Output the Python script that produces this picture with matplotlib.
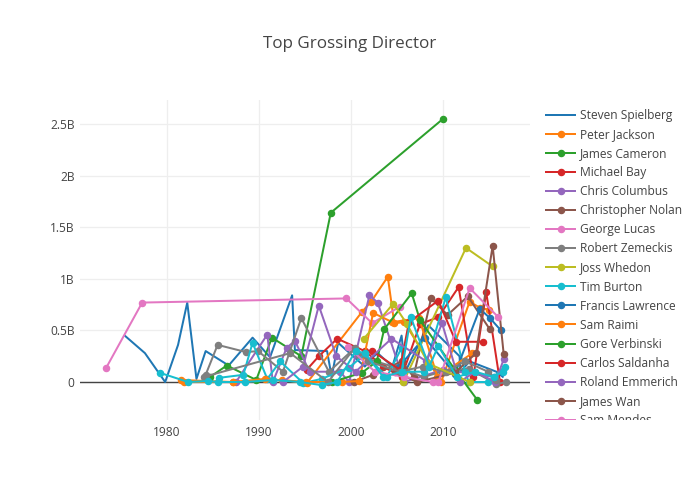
import matplotlib
matplotlib.use("Agg")
import matplotlib.pyplot as plt
from matplotlib.patches import Rectangle
from matplotlib.ticker import FuncFormatter

plt.rcParams['font.family'] = ['Open Sans', 'DejaVu Sans']

title = "Top Grossing Director"

directors = ["Steven Spielberg", "Peter Jackson", "James Cameron", "Michael Bay",
             "Chris Columbus", "Christopher Nolan", "George Lucas", "Robert Zemeckis",
             "Joss Whedon", "Tim Burton", "Francis Lawrence", "Sam Raimi",
             "Gore Verbinski", "Carlos Saldanha", "Roland Emmerich", "James Wan",
             "Sam Mendes", "Ridley Scott", "Andrew Adamson", "Ron Howard"]

# release year (decimal) and profit in billions USD
spielberg_years = [1975.4, 1977.6, 1979.8, 1981.2, 1982.2, 1983.2, 1984.2, 1986.7, 1989.3, 1991.2,
                   1993.6, 1993.9, 1997.4, 1997.9, 1998.6, 2001.5, 2002.5, 2002.9, 2004.5, 2005.5,
                   2005.9, 2008.4, 2011.8, 2011.9, 2012.9, 2015.8, 2016.5]
spielberg_vals = [0.45, 0.28, 0.0, 0.36, 0.77, 0.03, 0.30, 0.16, 0.43, 0.24,
                  0.84, 0.31, 0.30, 0.05, 0.38, 0.15, 0.25, 0.28, 0.15, 0.45,
                  0.10, 0.55, 0.25, 0.10, 0.20, 0.10, 0.05]
jackson_years = [1981.5, 1987.2, 1992.5, 1995.2, 2001.2, 2002.2, 2004.0, 2004.7, 2005.8, 2009.8, 2012.9, 2014.0, 2015.0]
jackson_vals = [0.02, 0.0, 0.02, -0.01, 0.68, 0.78, 1.02, 0.57, 0.58, 0.0, 0.78, 0.72, 0.70]
cameron_years = [1984.7, 1986.5, 1989.7, 1991.4, 1994.6, 1997.8, 2010.0]
cameron_vals = [0.05, 0.16, 0.02, 0.43, 0.25, 1.64, 2.55]
bay_years = [1995.2, 1996.5, 1998.5, 2001.5, 2003.5, 2005.5, 2007.5, 2009.5, 2011.7, 2013.3, 2014.7, 2016.2]
bay_vals = [0.12, 0.25, 0.42, 0.30, 0.15, 0.05, 0.56, 0.63, 0.92, 0.05, 0.87, 0.0]
columbus_years = [1987.5, 1990.9, 1991.5, 1993.0, 1993.9, 1995.5, 1998.8, 1999.8, 2002.0, 2002.9, 2005.8, 2010.0, 2015.5]
columbus_vals = [0.0, 0.46, 0.0, 0.33, 0.40, 0.10, 0.10, 0.0, 0.84, 0.77, 0.0, 0.12, 0.05]
nolan_years = [2000.3, 2002.4, 2005.5, 2006.8, 2008.7, 2010.5, 2012.7, 2015.1]
nolan_vals = [0.0, 0.07, 0.20, 0.05, 0.81, 0.65, 0.83, 0.51]
lucas_years = [1973.4, 1977.3, 1999.5, 2002.3, 2005.3]
lucas_vals = [0.14, 0.77, 0.81, 0.57, 0.73]
zemeckis_years = [1984.2, 1985.5, 1988.6, 1989.9, 1992.6, 1994.6, 1997.6, 2000.3, 2000.9, 2004.9,
                  2007.9, 2009.9, 2012.8, 2015.8, 2016.9]
zemeckis_vals = [0.07, 0.36, 0.29, 0.30, 0.10, 0.62, 0.10, 0.32, 0.25, 0.14,
                 0.05, 0.10, 0.13, -0.02, 0.0]
whedon_years = [2005.7, 2012.5, 2015.4]
whedon_vals = [0.0, 1.30, 1.12]
burton_years = [1985.6, 1988.3, 1989.3, 1990.9, 1992.3, 1994.8, 1996.8, 1999.8, 2001.5, 2003.9,
                2005.5, 2005.7, 2007.9, 2010.3, 2012.4, 2012.8, 2014.9, 2016.7]
burton_vals = [0.04, 0.07, 0.38, 0.03, 0.20, -0.01, 0.03, 0.14, 0.27, 0.05,
               0.33, 0.10, 0.10, 0.82, 0.10, 0.0, 0.0, 0.15]
lawrence_years = [2005.2, 2008.0, 2011.3, 2014.0, 2015.1, 2016.3]
lawrence_vals = [0.15, 0.43, 0.08, 0.71, 0.62, 0.50]
raimi_years = [1981.8, 1987.2, 1990.6, 1995.1, 1999.0, 2000.9, 2002.4, 2004.5, 2007.4, 2009.4, 2013.2]
raimi_vals = [0.0, 0.0, 0.03, 0.0, 0.0, 0.01, 0.67, 0.58, 0.62, 0.05, 0.28]
verbinski_years = [1997.9, 2001.2, 2002.8, 2003.6, 2006.6, 2007.5, 2011.3, 2013.7]
verbinski_vals = [0.0, 0.09, 0.20, 0.51, 0.86, 0.60, 0.12, -0.17]
saldanha_years = [2002.3, 2005.3, 2006.3, 2009.5, 2011.4, 2014.4]
saldanha_vals = [0.30, 0.12, 0.58, 0.79, 0.39, 0.39]
emmerich_years = [1992.6, 1994.8, 1996.5, 1998.4, 2000.5, 2004.4, 2008.2, 2009.9, 2011.8, 2013.5, 2015.7, 2016.6]
emmerich_vals = [0.0, 0.15, 0.74, 0.25, 0.10, 0.42, 0.20, 0.57, 0.0, 0.10, 0.0, 0.22]
wan_years = [2004.8, 2007.2, 2011.3, 2013.6, 2015.4, 2016.6]
wan_vals = [0.10, 0.0, 0.09, 0.28, 1.32, 0.27]
mendes_years = [1999.7, 2002.6, 2005.8, 2008.9, 2009.5, 2012.9, 2016.0]
mendes_vals = [0.34, 0.10, 0.05, 0.0, 0.0, 0.91, 0.63]
scott_years = [1984.0, 1993.4, 1997.5, 2000.4, 2001.9, 2005.3, 2007.8, 2010.3, 2012.4, 2014.9, 2015.8]
scott_vals = [0.05, 0.28, 0.0, 0.33, 0.20, 0.10, 0.15, 0.10, 0.20, 0.10, 0.02]
adamson_years = [2001.4, 2004.6, 2006.1, 2008.4, 2012.9]
adamson_vals = [0.42, 0.76, 0.56, 0.18, 0.0]
howard_years = [1979.2, 1982.3, 1984.5, 1985.5, 1988.5, 1991.5, 1994.5, 1996.8, 1998.5, 2000.5,
                2001.5, 2003.5, 2005.5, 2006.5, 2008.5, 2009.5, 2011.5, 2013.5, 2015.5, 2016.5]
howard_vals = [0.09, 0.0, 0.01, 0.0, 0.0, 0.02, 0.0, -0.03, 0.0, 0.30,
               0.28, 0.05, 0.10, 0.63, 0.15, 0.35, 0.05, 0.10, 0.05, 0.10]

series_years = [spielberg_years, jackson_years, cameron_years, bay_years, columbus_years,
                nolan_years, lucas_years, zemeckis_years, whedon_years, burton_years,
                lawrence_years, raimi_years, verbinski_years, saldanha_years, emmerich_years,
                wan_years, mendes_years, scott_years, adamson_years, howard_years]
series_vals = [spielberg_vals, jackson_vals, cameron_vals, bay_vals, columbus_vals,
               nolan_vals, lucas_vals, zemeckis_vals, whedon_vals, burton_vals,
               lawrence_vals, raimi_vals, verbinski_vals, saldanha_vals, emmerich_vals,
               wan_vals, mendes_vals, scott_vals, adamson_vals, howard_vals]

x_ticks = [1980, 1990, 2000, 2010]
y_ticks = [0, 0.5, 1, 1.5, 2, 2.5]

colors = ['#1f77b4', '#ff7f0e', '#2ca02c', '#d62728', '#9467bd',
          '#8c564b', '#e377c2', '#7f7f7f', '#bcbd22', '#17becf']

fig = plt.figure(figsize=(7, 5), dpi=100)
ax = fig.add_axes([80 / 700, 80 / 500, 450 / 700, 320 / 500])

handles = []
for i, (name, xs, ys) in enumerate(zip(directors, series_years, series_vals)):
    c = colors[i % 10]
    if i == 0:
        ln, = ax.plot(xs, ys, color=c, lw=1.44, label=name, zorder=3 + i * 0.01)
    else:
        ln, = ax.plot(xs, ys, color=c, lw=1.44, marker='o', markersize=4.4,
                      label=name, zorder=3 + i * 0.01)
    handles.append(ln)

ax.set_xlim(1970.54, 2019.46)
ax.set_ylim(-0.368, 2.733)
ax.set_xticks(x_ticks)
ax.set_yticks(y_ticks)
ax.yaxis.set_major_formatter(FuncFormatter(lambda v, p: '0' if v == 0 else f'{v:g}B'))
ax.grid(True, color='#eeeeee', lw=0.9, zorder=0)
ax.set_axisbelow(True)
ax.axhline(0, color='#444444', lw=1.0, zorder=1)
for s in ax.spines.values():
    s.set_visible(False)
ax.tick_params(axis='both', length=0, labelsize=8.64, colors='#444444', pad=4)

fig.text(0.5, 1 - 44 / 500, title, ha='center', va='center', fontsize=12.24, color='#444444')

leg = fig.legend(handles, directors, loc='upper left', bbox_to_anchor=(546 / 700, 1 - 109 / 500),
                 frameon=False, fontsize=8.64, handlelength=2.42, handletextpad=0.45,
                 labelspacing=0.505, borderpad=0, borderaxespad=0, labelcolor='#444444')
leg.set_zorder(5)
fig.patches.append(Rectangle((538 / 700, 0), 162 / 700, 80 / 500, transform=fig.transFigure,
                             facecolor='white', edgecolor='none', zorder=10))

fig.savefig('out.png', dpi=100)
